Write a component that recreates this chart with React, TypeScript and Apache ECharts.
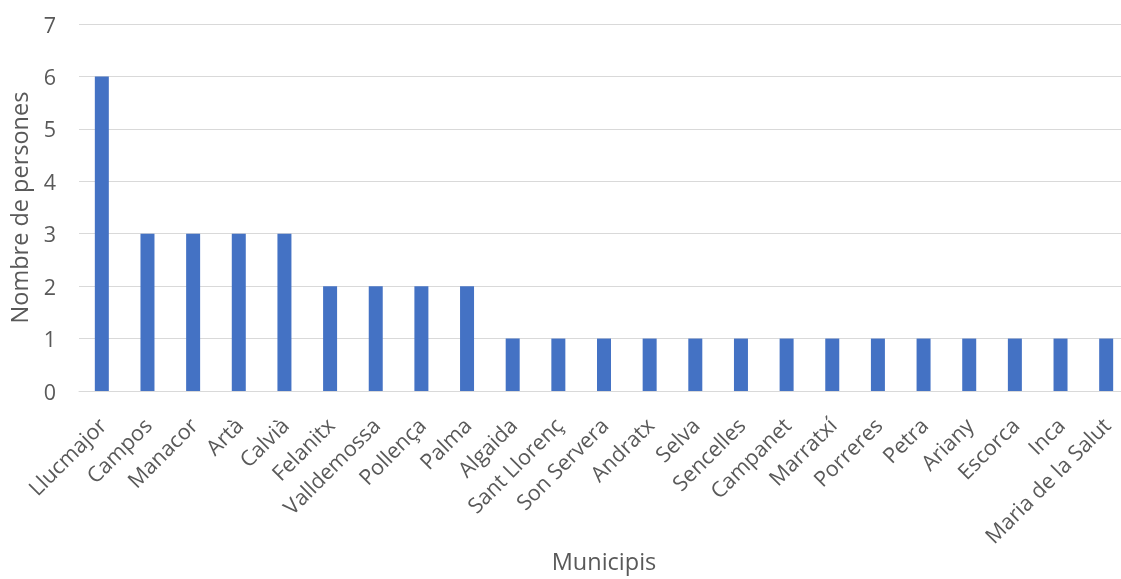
import React, { useEffect, useRef } from "react";
import * as echarts from "echarts";

const categories = [
  "Llucmajor", "Campos", "Manacor", "Artà", "Calvià", "Felanitx", "Valldemossa",
  "Pollença", "Palma", "Algaida", "Sant Llorenç", "Son Servera", "Andratx", "Selva",
  "Sencelles", "Campanet", "Marratxí", "Porreres", "Petra", "Ariany", "Escorca",
  "Inca", "Maria de la Salut",
];
const values = [6, 3, 3, 3, 3, 2, 2, 2, 2, 1, 1, 1, 1, 1, 1, 1, 1, 1, 1, 1, 1, 1, 1];
const yTicks = [0, 1, 2, 3, 4, 5, 6, 7];
const yTitle = "Nombre de persones";
const xTitle = "Municipis";

const FONT = "Open Sans";
const TXT = "#595959";

export default function App() {
  const ref = useRef<HTMLDivElement>(null);
  useEffect(() => {
    document.body.style.margin = "0";
    document.body.style.overflow = "hidden";
    const chart = echarts.init(ref.current!, null, { renderer: "svg" });
    chart.setOption({
      animation: false,
      textStyle: { fontFamily: FONT },
      grid: { left: 79, right: 0, top: 24, bottom: 188, containLabel: false, outerBoundsMode: "none" },
      xAxis: {
        type: "category",
        data: categories,
        axisLine: { show: true, lineStyle: { color: "#D9D9D9", width: 1 } },
        axisTick: { show: false },
        axisLabel: { rotate: 45, color: TXT, fontSize: 21.5, fontFamily: FONT, margin: 30, interval: 0 },
        name: xTitle,
        nameLocation: "middle",
        nameGap: 158,
        nameMoveOverlap: false,
        nameTextStyle: { color: TXT, fontSize: 23.5, fontFamily: FONT },
      },
      yAxis: {
        type: "value",
        min: yTicks[0],
        max: yTicks[yTicks.length - 1],
        interval: 1,
        axisLine: { show: false },
        axisTick: { show: false },
        splitLine: { lineStyle: { color: "#D9D9D9", width: 1 } },
        axisLabel: { color: TXT, fontSize: 21.5, fontFamily: FONT, margin: 23 },
        name: yTitle,
        nameLocation: "middle",
        nameGap: 48,
        nameMoveOverlap: false,
        nameTextStyle: { color: TXT, fontSize: 23.5, fontFamily: FONT },
      },
      series: [
        {
          type: "bar",
          data: values,
          barWidth: 14,
          itemStyle: { color: "#4472C4" },
        },
      ],
    });
    return () => chart.dispose();
  }, []);
  return (
    <div
      ref={ref}
      style={{ position: "fixed", left: 0, top: 0, width: 1129, height: 579 }}
    />
  );
}
